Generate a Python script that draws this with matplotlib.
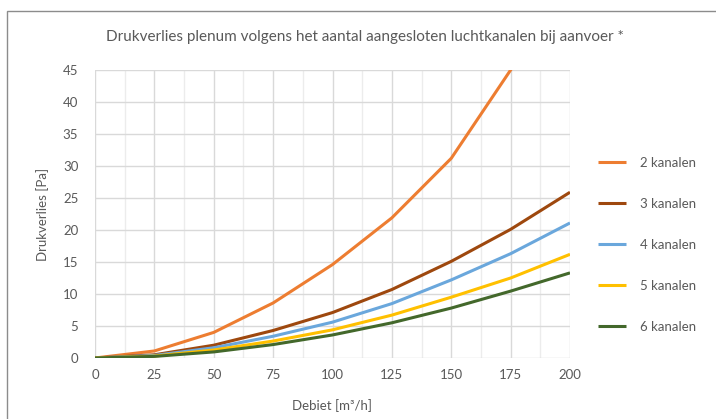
import matplotlib.pyplot as plt
from matplotlib.patches import Rectangle
from matplotlib.ticker import MultipleLocator

debiet = [0, 25, 50, 75, 100, 125, 150, 175, 200]
k2 = [0, 1.1, 4.0, 8.6, 14.6, 21.9, 31.2, 45.0, 58.5]
k3 = [0, 0.5, 2.0, 4.3, 7.1, 10.7, 15.1, 20.1, 25.9]
k4 = [0, 0.4, 1.6, 3.4, 5.6, 8.5, 12.2, 16.3, 21.1]
k5 = [0, 0.3, 1.25, 2.65, 4.4, 6.7, 9.5, 12.5, 16.2]
k6 = [0, 0.25, 0.95, 2.1, 3.6, 5.5, 7.8, 10.45, 13.3]
labels = ["2 kanalen", "3 kanalen", "4 kanalen", "5 kanalen", "6 kanalen"]
colors = ["#ED7D31", "#9E480E", "#6AA7DC", "#FFC000", "#43682B"]

txt = "#595959"
plt.rcParams['font.family'] = ['Lato', 'DejaVu Sans']

fig = plt.figure(figsize=(7.16, 4.19), dpi=100)
fig.patches.append(Rectangle((7/716, -0.1), 1.2, 1 - 11/419 + 0.1, transform=fig.transFigure,
                             fill=False, edgecolor="#8c8c8c", linewidth=1))
ax = fig.add_axes([95/716, 1 - 358/419, 475/716, 288/419])

for ys, lab, c in zip([k2, k3, k4, k5, k6], labels, colors):
    ax.plot(debiet, ys, color=c, linewidth=2.2, label=lab, solid_capstyle="butt")

ax.set_xlim(0, 200)
ax.set_ylim(0, 45)
ax.xaxis.set_major_locator(MultipleLocator(25))
ax.xaxis.set_minor_locator(MultipleLocator(12.5))
ax.yaxis.set_major_locator(MultipleLocator(5))
ax.grid(True, which="major", color="#d9d9d9", linewidth=1)
ax.grid(True, which="minor", axis="x", color="#ececec", linewidth=1)
ax.set_axisbelow(True)
for s in ax.spines.values():
    s.set_visible(False)
ax.tick_params(which="both", length=0, colors=txt, labelsize=9.5)
ax.tick_params(axis="y", pad=12)
ax.tick_params(axis="x", pad=8)

ax.set_xlabel("Debiet [m³/h]", color=txt, fontsize=9.5, labelpad=13)
ax.set_ylabel("Drukverlies [Pa]", color=txt, fontsize=9.5, labelpad=10)
fig.text(365/716, 1 - 37/419, "Drukverlies plenum volgens het aantal aangesloten luchtkanalen bij aanvoer *",
         ha="center", va="center", color=txt, fontsize=11)

leg = ax.legend(loc="upper left", bbox_to_anchor=(586/716, 1 - 145/419), bbox_transform=fig.transFigure,
                frameon=False, fontsize=9.5, labelspacing=2.2, handlelength=2.1, handletextpad=1.1)
for t in leg.get_texts():
    t.set_color(txt)

fig.savefig("out.png", dpi=100)
